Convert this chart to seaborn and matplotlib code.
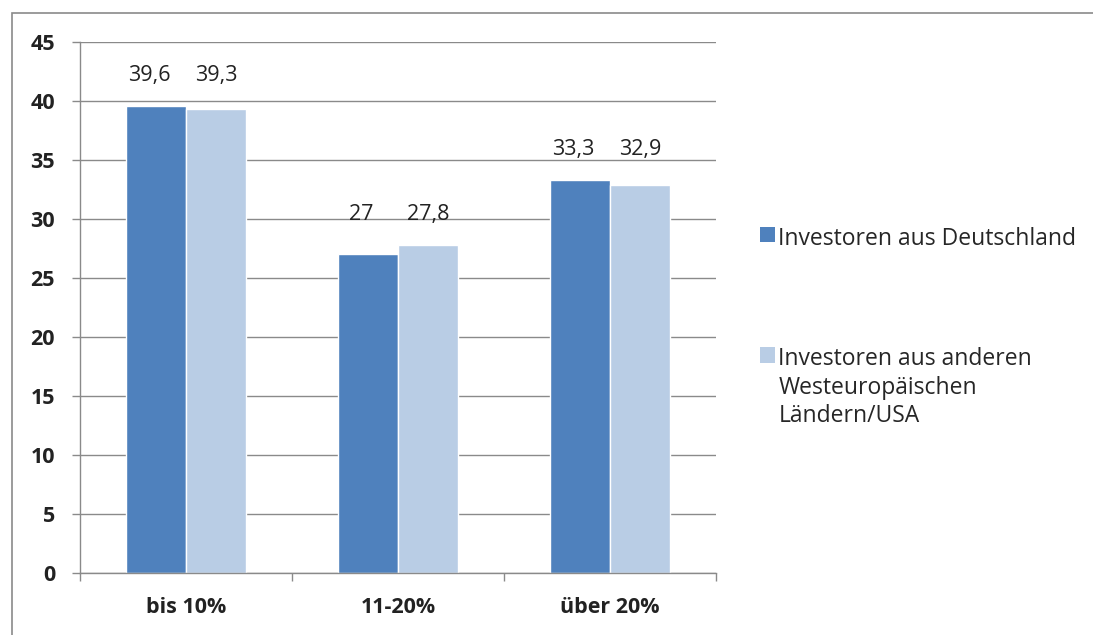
import matplotlib
matplotlib.use("Agg")
import matplotlib.pyplot as plt
import seaborn as sns
import pandas as pd
from matplotlib.patches import Rectangle, Patch
from matplotlib.ticker import FixedLocator

categories = ["bis 10%", "11-20%", "über 20%"]
series_names = ["Investoren aus Deutschland",
                "Investoren aus anderen\nWesteuropäischen\nLändern/USA"]
germany = [39.6, 27.0, 33.3]
others = [39.3, 27.8, 32.9]
label_germany = ["39,6", "27", "33,3"]
label_others = ["39,3", "27,8", "32,9"]
y_ticks = [0, 5, 10, 15, 20, 25, 30, 35, 40, 45]
colors = ["#4F81BD", "#B9CDE5"]

sns.set_theme(style="white")
plt.rcParams["font.family"] = ["Open Sans", "DejaVu Sans"]
FS = 15.5
LFS = 16.5

df = pd.DataFrame({
    "Kategorie": categories * 2,
    "Wert": germany + others,
    "Serie": [series_names[0]] * 3 + [series_names[1]] * 3,
})

fig = plt.figure(figsize=(10.93, 6.35), dpi=100)
ax = fig.add_axes([80 / 1093, 1 - 573 / 635, (716 - 80) / 1093, (573 - 42) / 635])

sns.barplot(data=df, x="Kategorie", y="Wert", hue="Serie", order=categories,
            hue_order=series_names, palette=colors, width=0.57, gap=0,
            saturation=1, ax=ax, legend=False)

ax.set_ylim(0, 45)
ax.set_xlim(-0.5, 2.5)
ax.set_yticks(y_ticks)
ax.set_yticklabels([str(v) for v in y_ticks], fontsize=FS, fontweight="bold", color="#222222")
ax.yaxis.grid(True, color="#8A8A8A", linewidth=1)
ax.set_axisbelow(True)
ax.set_xlabel("")
ax.set_ylabel("")
ax.set_xticks(range(len(categories)))
ax.set_xticklabels(categories, fontsize=FS, fontweight="bold", color="#222222")
ax.tick_params(axis="x", which="major", length=0, pad=17)
ax.xaxis.set_minor_locator(FixedLocator([-0.5, 0.5, 1.5, 2.5]))
ax.tick_params(axis="x", which="minor", direction="out", length=6, width=1, color="#8A8A8A", bottom=True)
ax.tick_params(axis="y", which="major", direction="out", length=6, width=1, color="#8A8A8A", left=True, pad=12)
for s in ["top", "right"]:
    ax.spines[s].set_visible(False)
for s in ["left", "bottom"]:
    ax.spines[s].set_color("#8A8A8A")
    ax.spines[s].set_linewidth(1)

# value labels
offsets = [-0.57 / 4, 0.57 / 4]
for i in range(len(categories)):
    top = max(germany[i], others[i]) + 2.6
    ax.text(i + offsets[0] - 0.03, top, label_germany[i], ha="center", va="center", fontsize=FS, color="#222222")
    ax.text(i + offsets[1], top, label_others[i], ha="center", va="center", fontsize=FS, color="#222222")

handles = [Patch(facecolor=colors[0], edgecolor="none"), Patch(facecolor=colors[1], edgecolor="none")]
leg = fig.legend(handles, series_names, loc="upper left", bbox_to_anchor=(760 / 1093, 1 - 227 / 635),
                 frameon=False, fontsize=LFS, handlelength=0.65, handleheight=0.65,
                 handletextpad=0.15, labelspacing=4.2, borderaxespad=0, borderpad=0)
for t in leg.get_texts():
    t.set_linespacing(1.25)
for col in leg._legend_handle_box.get_children():
    for row in col.get_children():
        row.align = "top"

fig.add_artist(Rectangle((12 / 1093, -0.05), 1.1, 1 - 13 / 635 + 0.05, transform=fig.transFigure,
                         fill=False, edgecolor="#8A8A8A", linewidth=1.2))

fig.savefig("out.png", dpi=100)
